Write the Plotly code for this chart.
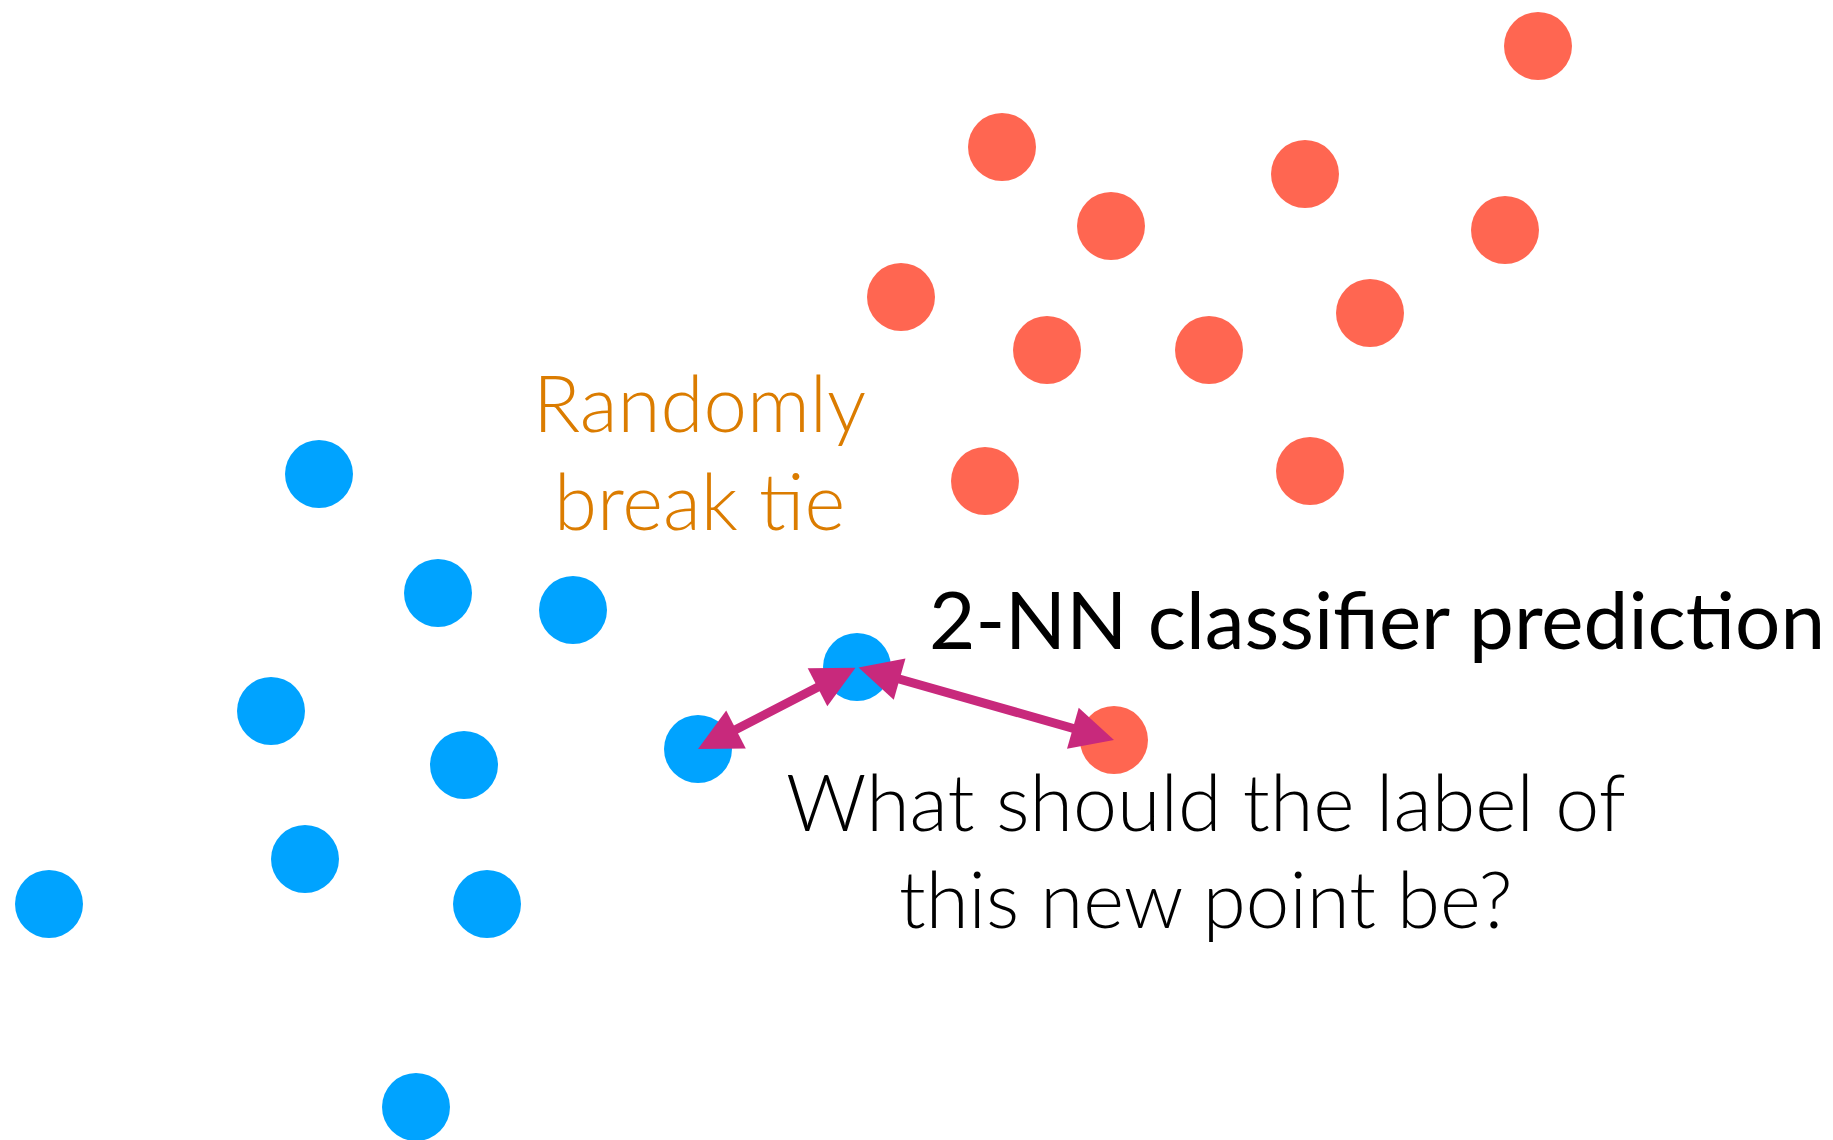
import plotly.graph_objects as go

# training points (pixel-like coordinates, y grows downward)
red_x = [1538, 1002, 1305, 1111, 1505, 901, 1047, 1209, 1370, 985, 1310, 1114]
red_y = [46, 147, 174, 226, 230, 297, 350, 350, 313, 481, 471, 740]
blue_x = [319, 438, 573, 271, 464, 305, 49, 487, 416, 698]
blue_y = [474, 593, 610, 711, 765, 859, 904, 904, 1107, 749]

# the new point and its two nearest neighbours
query_x, query_y = 857, 667
nn_x = [698, 1114]
nn_y = [749, 740]

BLUE = "#00A3FF"
RED = "#FF6651"
ARROW = "#C8297C"
ORANGE = "#DB7C00"

fig = go.Figure()
fig.add_trace(go.Scatter(x=red_x, y=red_y, mode="markers",
                         marker=dict(size=68, color=RED), hoverinfo="skip"))
fig.add_trace(go.Scatter(x=blue_x + [query_x], y=blue_y + [query_y], mode="markers",
                         marker=dict(size=68, color=BLUE), hoverinfo="skip"))

for x, y in zip(nn_x, nn_y):
    fig.add_annotation(x=x, y=y, ax=query_x, ay=query_y,
                       xref="x", yref="y", axref="x", ayref="y",
                       text="", showarrow=True, arrowside="end+start",
                       arrowhead=2, startarrowhead=2, arrowsize=0.95, startarrowsize=0.95,
                       arrowwidth=9, arrowcolor=ARROW, standoff=0, startstandoff=0)

def label(x, y, text, size, color, weight):
    fig.add_annotation(x=x, y=y, xref="x", yref="y", text=text, showarrow=False,
                       font=dict(family="Lato", size=size, color=color, weight=weight))

label(699, 402, "Randomly", 78, ORANGE, 300)
label(699, 500, "break tie", 78, ORANGE, 300)
fig.add_annotation(x=927, y=618, xref="x", yref="y", xanchor="left",
                   text="2-NN classifier prediction", showarrow=False,
                   font=dict(family="Lato", size=80, color="black"))
label(1206, 800, "What should the label of", 79, "black", 300)
label(1206, 898, "this new point be?", 78, "black", 300)

# page body adds an 8px offset, shift the ranges to compensate
fig.update_xaxes(range=[8, 1841], visible=False)
fig.update_yaxes(range=[1148, 8], visible=False)
fig.update_layout(width=1833, height=1140, margin=dict(l=0, r=0, t=0, b=0),
                  showlegend=False, plot_bgcolor="white", paper_bgcolor="white")

fig.write_html("out.html")
